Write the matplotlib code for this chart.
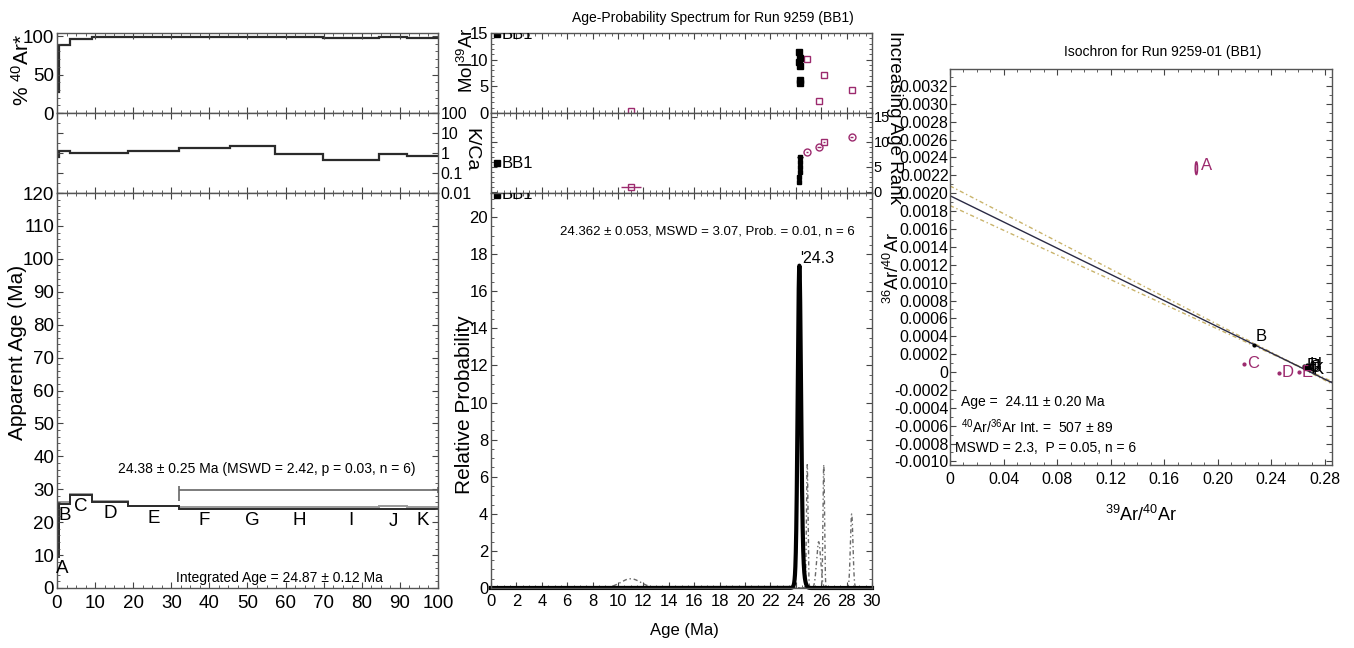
import numpy as np
import matplotlib
matplotlib.use('Agg')
import matplotlib.pyplot as plt
from matplotlib.ticker import MultipleLocator, FixedLocator, FuncFormatter, NullFormatter
from matplotlib.patches import Ellipse

plt.rcParams['font.family'] = ['Liberation Sans Narrow', 'Liberation Sans', 'DejaVu Sans']
plt.rcParams['mathtext.fontset'] = 'custom'
plt.rcParams['mathtext.rm'] = 'Liberation Sans'
plt.rcParams['mathtext.it'] = 'Liberation Sans'
plt.rcParams['mathtext.bf'] = 'Liberation Sans'

# step heating data, run 9259 (BB1)
steps = ['A', 'B', 'C', 'D', 'E', 'F', 'G', 'H', 'I', 'J', 'K']
cum39 = [0, 0.5, 3.4, 9.2, 18.6, 32.0, 45.4, 57.2, 69.8, 84.5, 91.9, 100.0]
age = [11.0, 25.8, 28.4, 26.2, 24.9, 24.3, 24.3, 24.25, 24.25, 24.35, 24.3]
age_err = [0.8, 0.16, 0.1, 0.06, 0.06, 0.115, 0.125, 0.125, 0.115, 0.22, 0.15]
rad40 = [27, 89, 96, 98.7, 98.8, 98.8, 98.8, 98.8, 97.5, 98.8, 98.0]
k_ca = [0.6, 1.2, 1.0, 1.0, 1.2, 1.8, 2.3, 0.93, 0.46, 0.86, 0.74]
mol39 = [0.4, 2.2, 4.4, 7.2, 10.1, 10.3, 8.9, 9.5, 11.4, 5.6, 6.2]
in_plateau = [False, False, False, False, False, True, True, True, True, True, True]

# isochron points (39Ar/40Ar, 36Ar/40Ar)
iso_x = [0.184, 0.227, 0.2196, 0.2457, 0.2606, 0.2645, 0.2655, 0.2665, 0.2675, 0.268, 0.2685]
iso_y = [0.00228, 0.00030, 0.00009, -0.00001, 0.0, 0.00007, 0.00005, 0.00008, 0.00004, 0.00006, 0.00003]
iso_xerr = [0.0008, 0.0004, 0.0004, 0.0004, 0.0004, 0.0004, 0.0004, 0.0004, 0.0004, 0.0004, 0.0004]
iso_yerr = [0.00007, 0.00002, 0.00002, 0.00002, 0.00002, 0.00002, 0.00002, 0.00002, 0.00002, 0.00002, 0.00002]
iso_black = [False, True, False, False, False, True, True, True, True, True, True]
iso_intercept = 1 / 507.0
iso_xint = 0.269
iso_int_err = 0.00011

plateau_txt = '24.38 ± 0.25 Ma (MSWD = 2.42, p = 0.03, n = 6)'
integrated_txt = 'Integrated Age = 24.87 ± 0.12 Ma'
prob_txt = '24.362 ± 0.053, MSWD = 3.07, Prob. = 0.01, n = 6'

MAG = '#9c2a6e'
DARK = '#2b2b2b'
GREY = '#9a9a9a'
SPINE = '#555555'

W, H = 1354, 648
fig = plt.figure(figsize=(W / 100, H / 100), dpi=100)


def box(x0, y0, x1, y1):
    return [x0 / W, 1 - y1 / H, (x1 - x0) / W, (y1 - y0) / H]


def style(ax, size):
    ax.tick_params(which='both', direction='in', top=True, right=True,
                   color='#444444', labelsize=size, pad=2)
    ax.tick_params(which='major', length=4)
    ax.tick_params(which='minor', length=2)
    for s in ax.spines.values():
        s.set_color(SPINE)
        s.set_linewidth(1.0)


def ftext(x, y, s, **kw):
    fig.text(x / W, 1 - y / H, s, ha='center', va='center', **kw)


edges = np.array(cum39)
age_a = np.array(age)
err_a = np.array(age_err)

# ---------------- left: age spectrum ----------------
ax1 = fig.add_axes(box(57, 33, 438, 113))
ax2 = fig.add_axes(box(57, 113, 438, 193))
ax3 = fig.add_axes(box(57, 193, 438, 588))

ax1.stairs(rad40, edges, baseline=None, color=DARK, lw=1.6)
ax1.set_ylim(0, 104)
ax1.set_yticks([0, 50, 100])
ax1.yaxis.set_minor_locator(MultipleLocator(10))

ax2.stairs(k_ca, edges, baseline=None, color=DARK, lw=1.6)
ax2.set_yscale('log')
ax2.set_ylim(0.01, 100)
ax2.yaxis.set_major_locator(FixedLocator([0.01, 0.1, 1, 10, 100]))
ax2.yaxis.set_minor_locator(FixedLocator([0.03, 0.3, 3, 30]))
ax2.yaxis.set_major_formatter(FuncFormatter(lambda v, p: '%g' % v))
ax2.yaxis.set_minor_formatter(NullFormatter())

ax3.stairs(age_a + 2 * err_a, edges, baseline=None, color=GREY, lw=1.4)
ax3.stairs(age_a - 2 * err_a, edges, baseline=None, color=DARK, lw=1.4)
ax3.set_ylim(0, 120)
ax3.yaxis.set_major_locator(MultipleLocator(10))
ax3.yaxis.set_minor_locator(MultipleLocator(2))

for ax in (ax1, ax2, ax3):
    ax.set_xlim(0, 100)
    ax.xaxis.set_major_locator(MultipleLocator(10))
    ax.xaxis.set_minor_locator(MultipleLocator(2.5))
    style(ax, 13.5)
ax1.tick_params(labelbottom=False)
ax2.tick_params(labelbottom=False, labelleft=False, labelright=True, labelsize=11.5)
ax3.tick_params(axis='x', pad=5)

for i, s in enumerate(steps):
    xc = max(0.5 * (cum39[i] + cum39[i + 1]), 1.3)
    ax3.text(xc, age[i] - 2 * age_err[i] - 1.0, s, ha='center', va='top', fontsize=13.5)

p0 = cum39[in_plateau.index(True)]
bar_y = 29.8
ax3.hlines(bar_y, p0, 100, color='#666666', lw=1.2)
ax3.vlines(p0, bar_y - 3.3, bar_y + 1.3, color='#666666', lw=1.2)
ax3.vlines(100, bar_y - 0.8, bar_y + 0.8, color='#666666', lw=1.2)
ax3.text(55, 36.2, plateau_txt, ha='center', va='center', fontsize=10)
ax3.text(58.5, 3.0, integrated_txt, ha='center', va='center', fontsize=10)

# ---------------- middle: age-probability ----------------
bx1 = fig.add_axes(box(491, 33, 872, 113))
bx2 = fig.add_axes(box(491, 113, 872, 193))
bx3 = fig.add_axes(box(491, 193, 872, 588))

for i in range(len(steps)):
    if in_plateau[i]:
        bx1.plot(age[i], mol39[i], 's', color='black', ms=4)
    else:
        bx1.plot(age[i], mol39[i], 's', mfc='none', mec=MAG, ms=5, mew=1)
bx1.set_ylim(0, 15)
bx1.yaxis.set_major_locator(MultipleLocator(5))
bx1.yaxis.set_minor_locator(MultipleLocator(1))

order = np.argsort(age_a, kind='stable')
rank = np.empty(len(age), dtype=int)
rank[order] = np.arange(1, len(age) + 1)
for i in range(len(steps)):
    if in_plateau[i]:
        bx2.errorbar(age[i], rank[i], xerr=age_err[i], fmt='s', color='black',
                     ms=3.5, elinewidth=1, capsize=0)
    else:
        mk = 's' if i == 0 or steps[i] == 'D' else 'o'
        bx2.errorbar(age[i], rank[i], xerr=age_err[i], fmt=mk, color=MAG,
                     mfc='none', ms=5, elinewidth=1, capsize=0)
bx2.set_ylim(-0.3, 15.7)
bx2.yaxis.set_major_locator(MultipleLocator(5))
bx2.yaxis.set_minor_locator(MultipleLocator(1))

xg = np.linspace(0, 30, 6001)


def gauss(mu, s):
    return np.exp(-0.5 * ((xg - mu) / s) ** 2) / (s * np.sqrt(2 * np.pi))


for i in range(len(steps)):
    if not in_plateau[i]:
        bx3.plot(xg, gauss(age[i], age_err[i]), color='#6a6a6a', lw=1.0,
                 ls=(0, (3, 2, 1, 2)))
pl = np.zeros_like(xg)
for i in range(len(steps)):
    if in_plateau[i]:
        pl += gauss(age[i], age_err[i])
bx3.plot(xg, pl, color='black', lw=3, clip_on=False)
pk = np.argmax(pl)
bx3.text(xg[pk] + 0.05, pl[pk] + 0.4, "'%.1f" % xg[pk], ha='left', va='center', fontsize=11.5)
bx3.text(17.0, 19.2, prob_txt, ha='center', va='center', fontsize=9.5)
bx3.set_ylim(0, 21.3)
bx3.yaxis.set_major_locator(MultipleLocator(2))
bx3.yaxis.set_minor_locator(MultipleLocator(0.5))

for ax in (bx1, bx2, bx3):
    ax.set_xlim(0, 30)
    ax.xaxis.set_major_locator(MultipleLocator(2))
    ax.xaxis.set_minor_locator(MultipleLocator(0.5))
    style(ax, 12)
bx1.tick_params(labelbottom=False, labelsize=12)
bx2.tick_params(labelbottom=False, labelleft=False, labelright=True, labelsize=10.5)
bx2.tick_params(axis='y', pad=1)
bx3.tick_params(axis='x', pad=4)

for ax, yy in ((bx1, 0.985), (bx2, 0.375), (bx3, 0.995)):
    ax.plot(0.016, yy, 's', color='black', ms=5, transform=ax.transAxes, clip_on=True)
    ax.text(0.028, yy, 'BB1', transform=ax.transAxes, ha='left', va='center',
            fontsize=12, clip_on=True)

# ---------------- right: isochron ----------------
cx = fig.add_axes(box(950, 69, 1332, 465))
xmax = 0.2853
xl = np.linspace(0, xmax, 400)
slope = -iso_intercept / iso_xint
yl = iso_intercept + slope * xl
xbar = 0.255
half = np.sqrt((iso_int_err * 0.03) ** 2 + (iso_int_err / xbar) ** 2 * (xl - xbar) ** 2)
cx.plot(xl, yl + half, color='#c9b36a', lw=1, ls=(0, (3, 2, 1, 2)))
cx.plot(xl, yl - half, color='#c9b36a', lw=1, ls=(0, (3, 2, 1, 2)))
cx.plot(xl, yl, color='#2a2a44', lw=1)

for i, s in enumerate(steps):
    c = 'black' if iso_black[i] else MAG
    if i == 0:
        cx.add_patch(Ellipse((iso_x[i], iso_y[i]), 2 * iso_xerr[i], 2 * iso_yerr[i],
                             fill=False, ec=MAG, lw=1.2))
        cx.annotate(s, (iso_x[i], iso_y[i]), xytext=(3, 2), textcoords='offset points',
                    color=c, fontsize=12, va='center')
    else:
        cx.plot(iso_x[i], iso_y[i], 'o', color=c, ms=2)
        off = (1, 6) if s == 'B' else (2, 0)
        cx.annotate(s, (iso_x[i], iso_y[i]), xytext=off, textcoords='offset points',
                    color=c, fontsize=12, va='center')

cx.set_xlim(0, xmax)
cx.set_ylim(-0.00104, 0.00339)
cx.xaxis.set_major_locator(MultipleLocator(0.04))
cx.xaxis.set_minor_locator(MultipleLocator(0.01))
cx.yaxis.set_major_locator(MultipleLocator(0.0002))
cx.yaxis.set_minor_locator(MultipleLocator(0.0001))
cx.xaxis.set_major_formatter(FuncFormatter(lambda v, p: '0' if abs(v) < 1e-9 else '%.2f' % v))
cx.yaxis.set_major_formatter(FuncFormatter(lambda v, p: '0' if abs(v) < 1e-9 else '%.4f' % v))
style(cx, 11.5)
cx.tick_params(axis='y', pad=1)
cx.tick_params(axis='x', pad=5)

cx.text(0.008, -0.00033, 'Age =  24.11 ± 0.20 Ma', fontsize=10, va='center')
cx.text(0.008, -0.00061, r'$^{40}$Ar/$^{36}$Ar Int. =  507 ± 89', fontsize=10, va='center')
cx.text(0.004, -0.00085, 'MSWD = 2.3,  P = 0.05, n = 6', fontsize=10, va='center')

# labels and titles
ftext(22, 70, r'% $^{40}$Ar*', rotation=90, fontsize=15)
ftext(18, 352, 'Apparent Age (Ma)', rotation=90, fontsize=15)
ftext(471, 150, 'K/Ca', rotation=270, fontsize=14)
ftext(467, 60, r'Mol$^{39}$Ar', rotation=90, fontsize=13.5)
ftext(464, 405, 'Relative Probability', rotation=90, fontsize=15)
ftext(894, 118, 'Increasing Age Rank', rotation=270, fontsize=13.5)
ftext(684, 630, 'Age (Ma)', fontsize=12)
ftext(713, 18, 'Age-Probability Spectrum for Run 9259 (BB1)', fontsize=10)
ftext(1163, 52, 'Isochron for Run 9259-01 (BB1)', fontsize=10)
ftext(893, 268, r'$^{36}$Ar/$^{40}$Ar', rotation=90, fontsize=13)
ftext(1141, 515, r'$^{39}$Ar/$^{40}$Ar', fontsize=13)

fig.savefig('out.png', dpi=100)
